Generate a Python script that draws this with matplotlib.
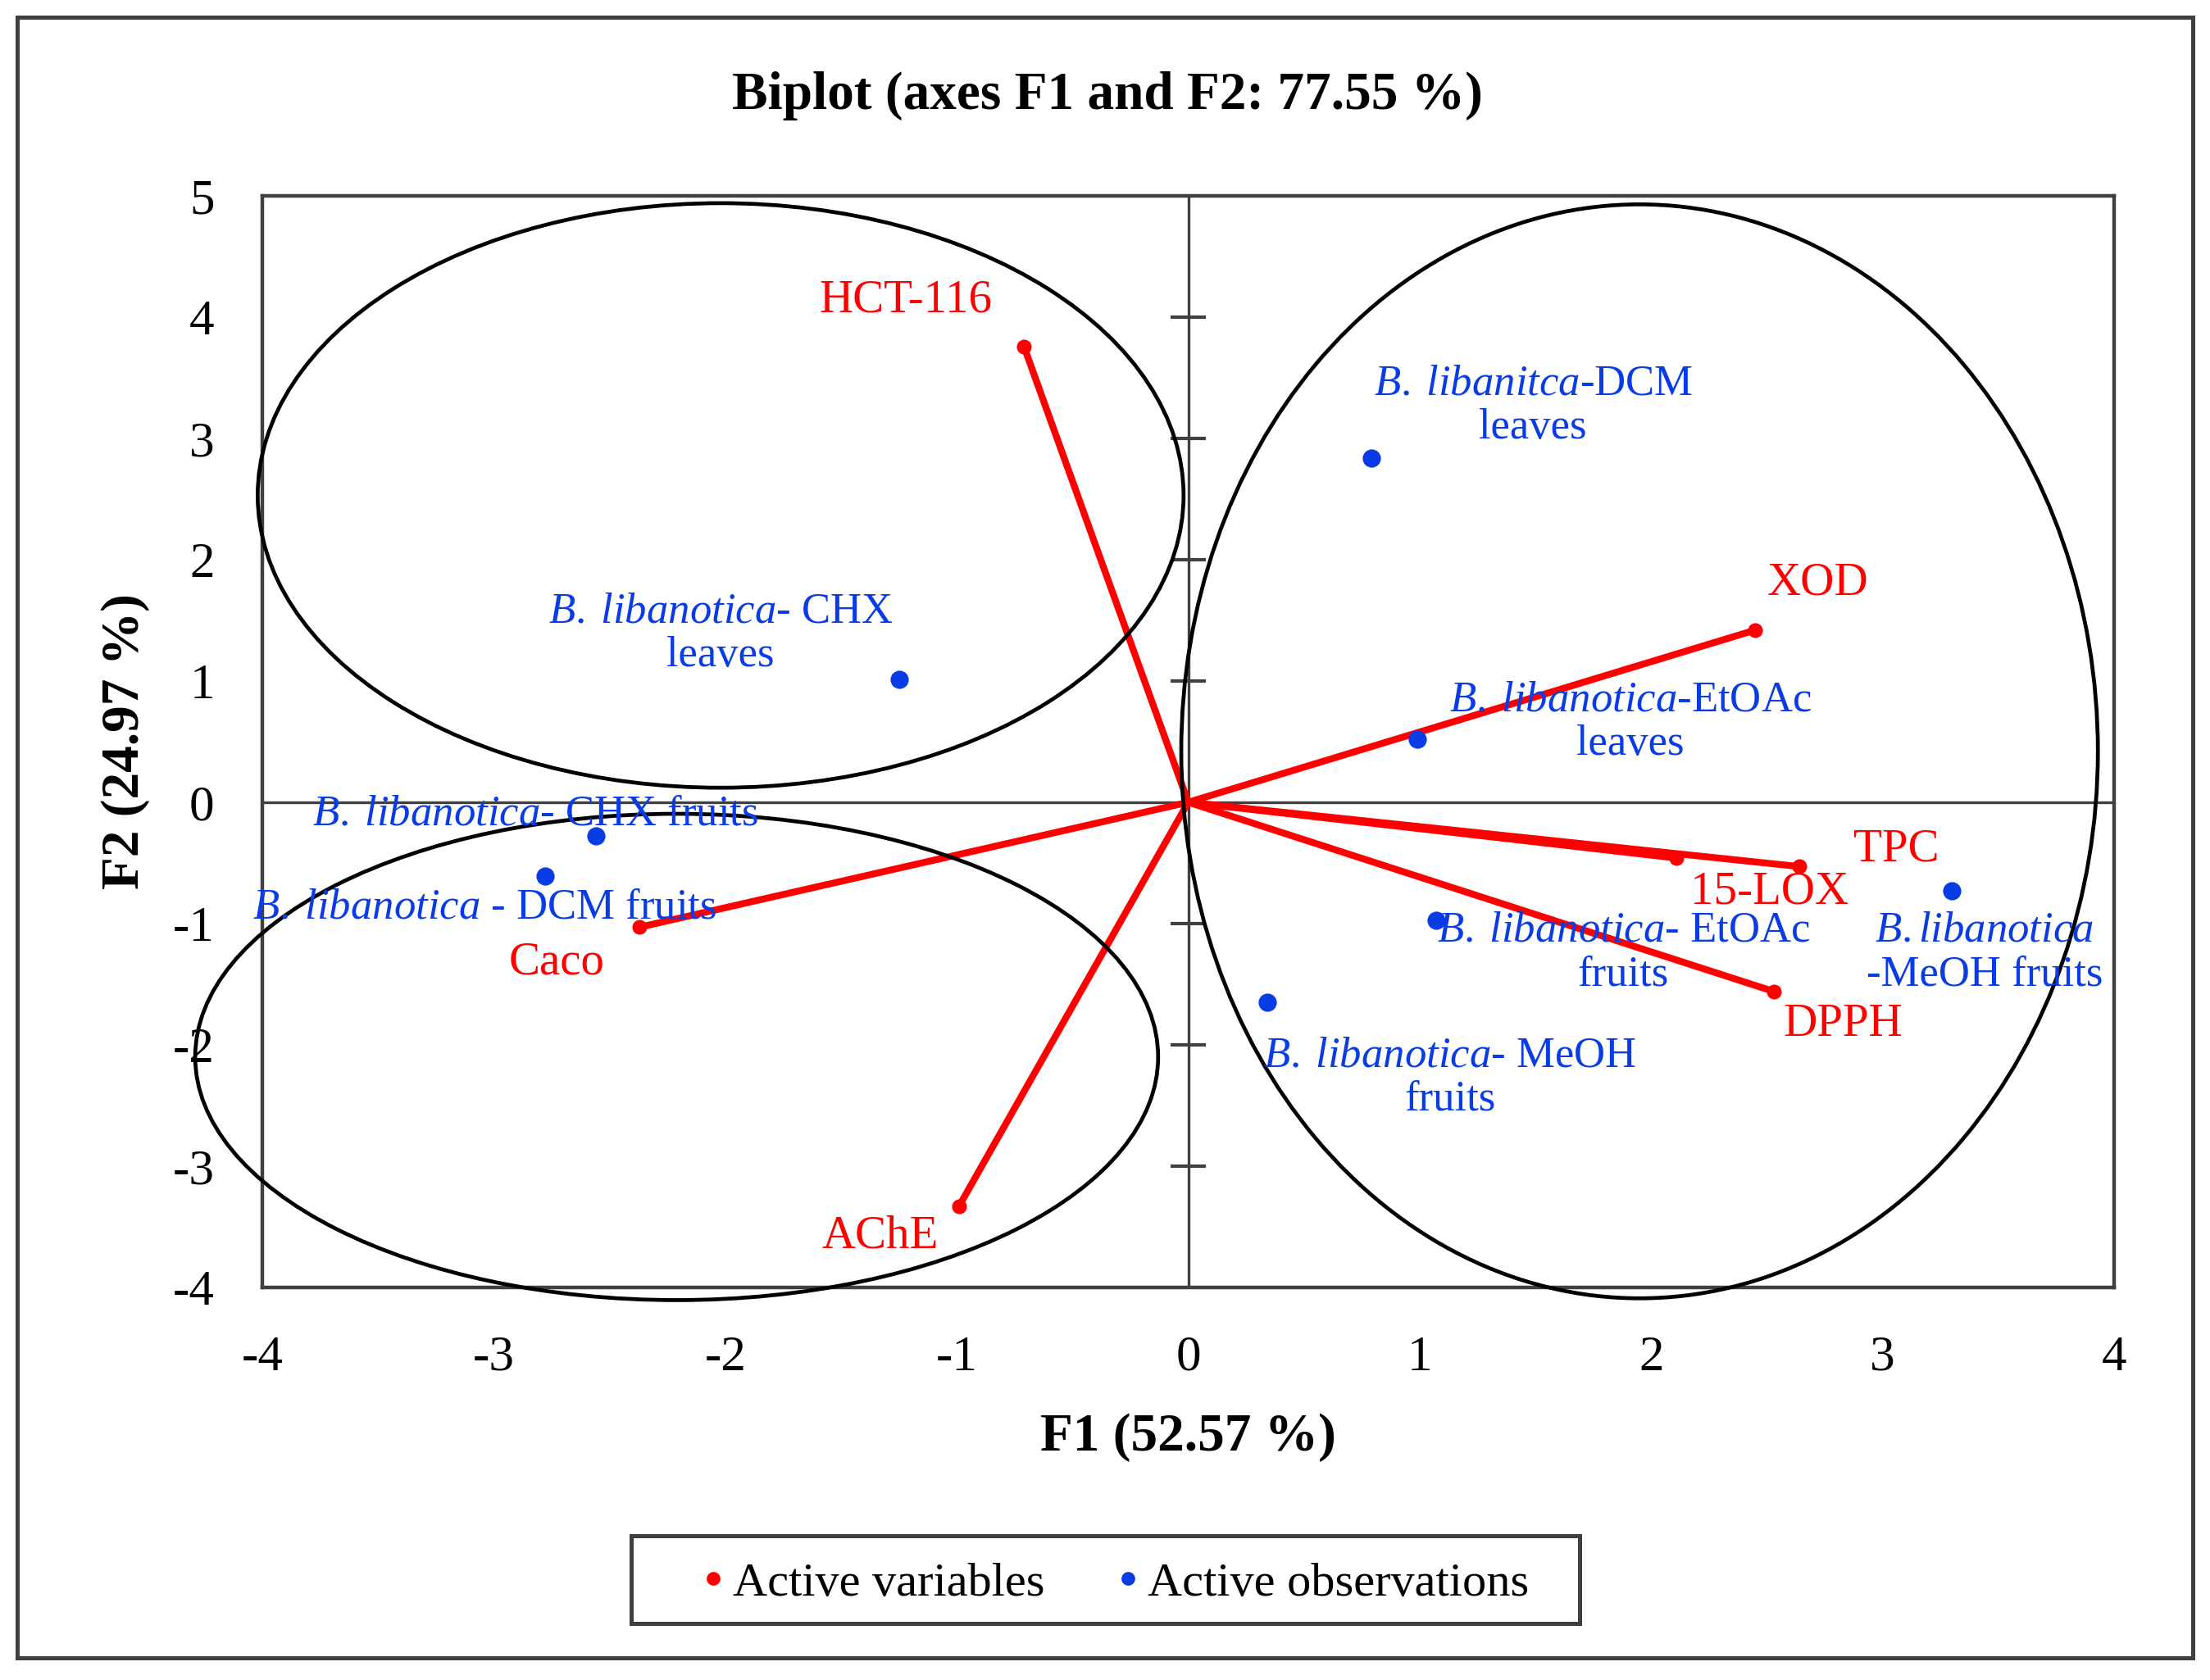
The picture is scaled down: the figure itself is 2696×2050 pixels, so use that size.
import matplotlib
matplotlib.use("Agg")
import matplotlib.pyplot as plt
from matplotlib.patches import Ellipse, Rectangle
from matplotlib.lines import Line2D

plt.rcParams['font.family'] = ['Liberation Serif', 'DejaVu Serif']
plt.rcParams['mathtext.fontset'] = 'custom'
plt.rcParams['mathtext.rm'] = 'Liberation Serif'
plt.rcParams['mathtext.it'] = 'Liberation Serif:italic'
plt.rcParams['axes.unicode_minus'] = False

# active variables (loadings, scaled)
var_names = ['HCT-116', 'XOD', 'TPC', '15-LOX', 'DPPH', 'Caco', 'AChE']
var_x = [-0.71, 2.45, 2.64, 2.11, 2.53, -2.37, -0.99]
var_y = [3.76, 1.42, -0.53, -0.46, -1.56, -1.03, -3.33]
# label centres for the variables
var_lx = [-1.22, 2.72, 3.06, 2.51, 2.83, -2.73, -1.33]
var_ly = [4.14, 1.81, -0.39, -0.74, -1.83, -1.32, -3.58]

# active observations
obs_names = [
    r'$\mathit{B.\;libanitca}$-DCM' + '\nleaves',
    r'$\mathit{B.\;libanotica}$- CHX' + '\nleaves',
    r'$\mathit{B.\;libanotica}$-EtOAc' + '\nleaves',
    r'$\mathit{B.\;libanotica}$- CHX fruits',
    r'$\mathit{B.\;libanotica}$ - DCM fruits',
    r'$\mathit{B.\;libanotica}$- EtOAc' + '\nfruits',
    r'$\mathit{B.libanotica}$' + '\n-MeOH fruits',
    r'$\mathit{B.\;libanotica}$- MeOH' + '\nfruits',
]
obs_x = [0.79, -1.25, 0.99, -2.56, -2.78, 1.07, 3.30, 0.34]
obs_y = [2.84, 1.01, 0.52, -0.28, -0.61, -0.97, -0.73, -1.65]
obs_lx = [1.49, -2.02, 1.91, -2.82, -3.04, 1.88, 3.44, 1.13]
obs_ly = [3.27, 1.39, 0.66, -0.10, -0.87, -1.24, -1.24, -2.27]

# groups circled on the plot: centre x, centre y, width, height
ell_cx = [-2.02, -2.21, 1.95]
ell_cy = [2.53, -2.10, 0.42]
ell_w = [4.00, 4.16, 3.96]
ell_h = [4.82, 4.01, 9.02]

xticks = [-4, -3, -2, -1, 0, 1, 2, 3, 4]
yticks = [-4, -3, -2, -1, 0, 1, 2, 3, 4, 5]

RED = '#FF0000'
BLUE = '#0A3CE6'
GREY = '#404040'

fig = plt.figure(figsize=(13.48, 10.25), dpi=200)
ax = fig.add_axes([0.1187, 0.2337, 0.8379, 0.6497])

# outer frame around the whole picture
fig.patches.append(Rectangle((0.0078, 0.0132), 0.9844, 0.9768, transform=fig.transFigure,
                             fill=False, ec=GREY, lw=1.8))

ax.set_xlim(-4, 4)
ax.set_ylim(-4, 5)
ax.set_xticks(xticks)
ax.set_yticks(yticks)
ax.tick_params(length=0, pad=21, labelsize=22)
for s in ax.spines.values():
    s.set_color(GREY)
    s.set_linewidth(1.6)

ax.axhline(0, color=GREY, lw=1.2, zorder=1)
ax.axvline(0, color=GREY, lw=1.2, zorder=1)
# crossing ticks on the vertical axis line
inner = [t for t in yticks if -4 < t < 5 and t != 0]
ax.hlines(inner, 0.5 - 0.0093, 0.5 + 0.0093, transform=ax.get_yaxis_transform(),
          color=GREY, lw=1.5, zorder=1)

for cx, cy, w, h in zip(ell_cx, ell_cy, ell_w, ell_h):
    ax.add_patch(Ellipse((cx, cy), w, h, fill=False, ec='black', lw=1.7,
                         clip_on=False, zorder=4))

for x, y in zip(var_x, var_y):
    ax.plot([0, x], [0, y], color=RED, lw=3.0, solid_capstyle='round', zorder=3)
ax.plot(var_x, var_y, 'o', color=RED, ms=5.5, zorder=3)
for name, lx, ly in zip(var_names, var_lx, var_ly):
    ax.text(lx, ly, name, color=RED, fontsize=20.5, ha='center', va='center', zorder=5)

ax.plot(obs_x, obs_y, 'o', color=BLUE, ms=7, zorder=5)
for name, lx, ly in zip(obs_names, obs_lx, obs_ly):
    ax.text(lx, ly, name, color=BLUE, fontsize=19, ha='center', va='center',
            linespacing=1.15, zorder=5)

ax.set_xlabel('F1 (52.57 %)', fontsize=23.5, fontweight='bold', labelpad=14)
ax.set_ylabel('F2 (24.97 %)', fontsize=23.5, fontweight='bold', labelpad=10)
fig.text(0.501, 0.943, 'Biplot (axes F1 and F2: 77.55 %)', fontsize=23.5,
         fontweight='bold', ha='center', va='center')

# legend box drawn separately so its padding matches the original
fig.patches.append(Rectangle((0.2856, 0.0337), 0.4292, 0.0522, transform=fig.transFigure,
                             fill=False, ec=GREY, lw=1.8))
handles = [Line2D([], [], ls='none', marker='o', color=RED, ms=5),
           Line2D([], [], ls='none', marker='o', color=BLUE, ms=5)]
fig.legend(handles, ['Active variables', 'Active observations'], loc='center',
           bbox_to_anchor=(0.504, 0.0575), ncol=2, fontsize=21, frameon=False,
           handletextpad=0.1, handlelength=0.6, columnspacing=1.45)

fig.savefig('out.png', dpi=200, facecolor='white')
